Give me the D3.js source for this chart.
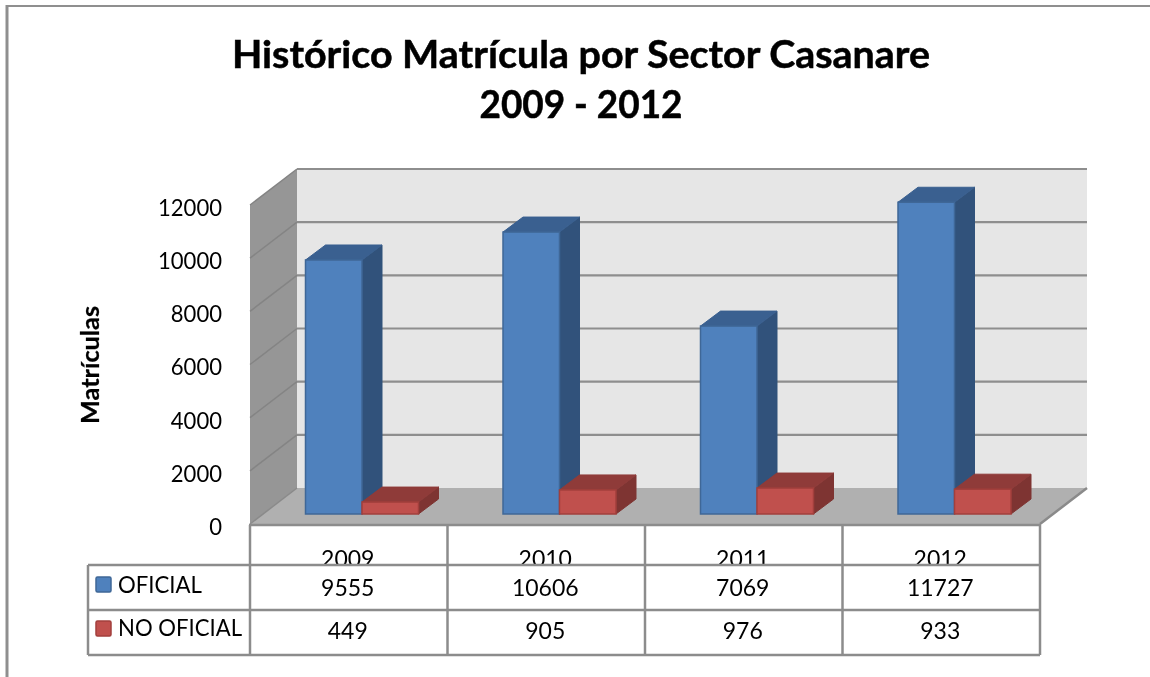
<!DOCTYPE html>
<html><head><meta charset="utf-8">
<script src="https://cdn.jsdelivr.net/npm/d3@7"></script>
<style>html,body{margin:0;padding:0;background:#fff}svg{display:block;filter:blur(0.35px)}text{font-family:Lato,"Open Sans",sans-serif;fill:#000}</style>
</head><body><svg id="c" width="1150" height="677"></svg>
<script>
const years = ["2009","2010","2011","2012"];
const oficial = [9555,10606,7069,11727];
const noOficial = [449,905,976,933];
const yTicks = [0,2000,4000,6000,8000,10000,12000];
const titleLines = ["Histórico Matrícula por Sector Casanare","2009 - 2012"];
const yTitle = "Matrículas";
const seriesNames = ["OFICIAL","NO OFICIAL"];
const colors = {
  blue:{front:"#4f81bd",top:"#3a6090",side:"#31527b",stroke:"#3f6797"},
  red:{front:"#c0504d",top:"#8f3b39",side:"#7e3432",stroke:"#a23f3c"}
};
const svg = d3.select("#c");
const grid = "#8e8e8e";
// layout
const L=250,R=1040,F0=524,F12=205,DX=47,DY=-36;
const x = d3.scaleBand().domain(years).range([L,R]);
const y = d3.scaleLinear().domain([0,12000]).range([F0,F12]);
const poly=(pts,fill,stroke,sw)=>svg.append("polygon").attr("points",pts.map(p=>p.join(",")).join(" ")).attr("fill",fill).attr("stroke",stroke||"none").attr("stroke-width",sw||0).attr("stroke-linejoin","round");
const line=(a,b,c,w)=>svg.append("line").attr("x1",a[0]).attr("y1",a[1]).attr("x2",b[0]).attr("y2",b[1]).attr("stroke",c).attr("stroke-width",w);
// frame
line([7,6],[1150,6],"#8f8f8f",2); line([7,5],[7,677],"#8f8f8f",3);
// walls
poly([[L+DX,y(12000)+DY],[R+DX,y(12000)+DY],[R+DX,y(0)+DY],[L+DX,y(0)+DY]],"#e6e6e6");
poly([[L,y(12000)],[L+DX,y(12000)+DY],[L+DX,y(0)+DY],[L,y(0)]],"#969696");
yTicks.filter(t=>t>0).forEach(t=>{
  line([L,y(t)],[L+DX,y(t)+DY],"#848484",1.5);
  line([L+DX,y(t)+DY],[R+DX,y(t)+DY],grid,2.2);
});
poly([[L,y(0)],[L+DX,y(0)+DY],[R+DX,y(0)+DY],[R,y(0)]],"#b0b0b0");
line([L,y(0)],[L+DX,y(0)+DY],"#8a8a8a",1.5);
line([R,y(0)],[R+DX,y(0)+DY],"#8a8a8a",2.5);
// bars
const bw=56.5, dx=20, dy=-15, baseDrop=10;
const h=v=>y(0)-y(v);
function bar(px,v,c){
  const b=F0-baseDrop, t=b-h(v);
  poly([[px+bw,t],[px+bw+dx,t+dy],[px+bw+dx,b+dy],[px+bw,b]],c.side,c.side,1);
  poly([[px,t],[px+dx,t+dy],[px+bw+dx,t+dy],[px+bw,t]],c.top,c.top,1);
  svg.append("rect").attr("x",px).attr("y",t).attr("width",bw).attr("height",b-t).attr("fill",c.front).attr("stroke",c.stroke).attr("stroke-width",1.5);
}
years.forEach((yr,i)=>{
  const p=x(yr)+55.5;
  bar(p,oficial[i],colors.blue);
  bar(p+bw,noOficial[i],colors.red);
});
// y axis
const yAxis=d3.axisLeft(y).tickValues(yTicks).tickSize(0).tickPadding(28).tickFormat(d3.format("d"));
const ga=svg.append("g").attr("transform",`translate(${L},3)`).call(yAxis);
ga.select(".domain").remove();
ga.selectAll("text").style("font-size","23px").style("font-family","Lato,sans-serif").attr("dy","0.32em").attr("textLength",d=>String(d).length*12.8).attr("lengthAdjust","spacingAndGlyphs");
// y title
svg.append("text").attr("transform","translate(99,365) rotate(-90)").attr("text-anchor","middle").attr("textLength",118).attr("lengthAdjust","spacingAndGlyphs").style("font-size","24px").style("font-weight","700").style("stroke","#000").style("stroke-width","0.25px").text(yTitle);
// title
titleLines.forEach((s,i)=>{
  const t=svg.append("text").attr("x",581).attr("y",[68,118][i]).attr("text-anchor","middle").style("font-size","38.5px").style("font-weight","700").style("stroke","#000").style("stroke-width","0.5px");
  t.attr("textLength",[698,203][i]).attr("lengthAdjust","spacingAndGlyphs");
  t.text(s);
});
// table
const T0=F0+1,T1=565,T2=610,T3=655,LL=88;
const tc="#8c8c8c";
const mid=d=>x(d)+x.bandwidth()/2;
// category labels sit in the top row and are cut off by its lower border
svg.append("clipPath").attr("id","yc").append("rect").attr("x",L).attr("y",T0).attr("width",R-L).attr("height",T1-T0);
const yrG=svg.append("g").attr("clip-path","url(#yc)");
const cell={ "text-anchor":"middle" };
years.forEach(yr=>yrG.append("text").attr("x",mid(yr)-1).attr("y",566.5).attr("text-anchor",cell["text-anchor"]).style("font-size","23px").text(yr));
[...years.map(d=>x(d)),R].forEach(px=>line([px,T0],[px,T3],tc,2.5));
line([L-1,y(0)+1],[R+1,y(0)+1],tc,2.5);
line([LL,T1],[R,T1],tc,2.5);line([LL,T2],[R,T2],tc,2.5);line([LL,T3],[R,T3],tc,2.5);line([LL,T1],[LL,T3],tc,2.5);
years.forEach((yr,i)=>{
  svg.append("text").attr("x",mid(yr)-1).attr("y",596).attr("text-anchor","middle").style("font-size","23px").text(oficial[i]);
  svg.append("text").attr("x",mid(yr)-1).attr("y",639).attr("text-anchor","middle").style("font-size","23px").text(noOficial[i]);
});
[["blue",593],["red",637]].forEach(([k,yb],i)=>{
  svg.append("rect").attr("x",96).attr("y",yb-16).attr("width",15).attr("height",15).attr("rx",1.5).attr("fill",colors[k].front).attr("stroke",colors[k].stroke).attr("stroke-width",1.5);
  svg.append("text").attr("x",118).attr("y",[593,636][i]).attr("textLength",[84,124][i]).attr("lengthAdjust","spacingAndGlyphs").style("font-size","23px").text(seriesNames[i]);
});
</script></body></html>
